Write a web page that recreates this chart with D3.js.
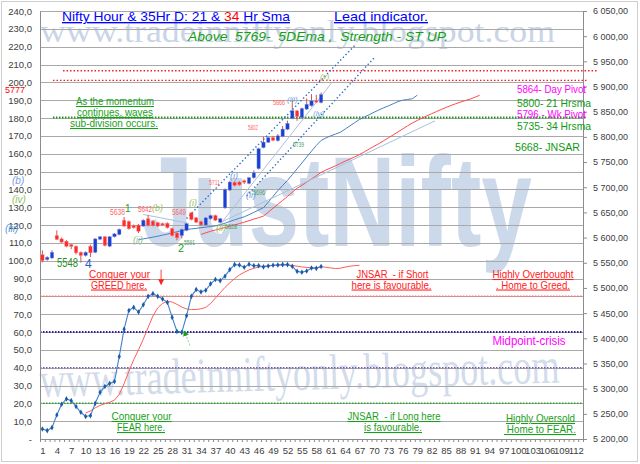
<!DOCTYPE html>
<html>
<head>
<meta charset="utf-8">
<script src="https://cdn.jsdelivr.net/npm/d3@7"></script>
<style>
body { margin: 0; background: #fff; }
svg text { font-family: "Liberation Sans", Arial, sans-serif; }
</style>
</head>
<body>
<script>
// ---- data ----
var categories = d3.range(1, 114);            // x categories 1..113
var xTickLabels = d3.range(1, 113, 3);        // 1,4,7 ... 112
var leftTicks = d3.range(0, 241, 10);         // 0..240
var rightTicks = d3.range(5200, 6051, 50);    // 5 200,00 .. 6 050,00

// hourly candles, left axis units, first candle = category 1
var candleOpen  = [103.4,100.6,101.5,114.1,112.2,110.9,109.0,108.1,104.7,102.9,108.1,104.7,112.0,113.4,108.1,113.4,114.7,122.7,122.0,119.7,120.0,119.4,123.5,122.2,121.3,120.8,121.0,118.0,115.5,114.1,117.0,126.8,124.0,121.9,120.0,123.5,125.3,121.5,129.6,139.6,144.0,144.1,144.8,143.3,146.5,151.6,163.4,166.4,169.0,167.3,169.7,173.7,179.8,184.0,180.3,185.0,186.9,189.6,188.7];
var candleClose = [100.0,101.9,104.7,111.9,110.4,108.1,108.0,104.4,102.9,104.7,104.4,112.2,113.4,108.5,113.4,115.0,117.5,119.4,117.9,118.5,116.5,122.7,119.7,119.7,119.4,120.0,118.5,114.1,112.8,117.5,120.8,123.1,121.6,120.0,124.0,125.3,122.7,123.5,140.0,144.1,142.2,142.5,144.0,146.5,149.3,162.8,166.5,169.0,167.5,170.0,173.8,177.0,184.1,180.8,185.3,187.7,189.6,188.9,193.2];
var candleHigh  = [105.8,102.5,105.8,117.0,113.0,111.5,109.5,108.5,105.2,105.2,109.0,112.6,113.8,113.8,113.8,115.5,118.0,124.5,122.5,120.3,120.5,123.2,125.5,122.7,121.8,121.3,121.5,118.5,116.0,118.0,121.3,127.3,124.5,122.4,124.5,125.8,125.8,124.0,140.5,144.6,144.5,144.6,145.5,147.0,150.6,163.3,169.5,169.5,170.0,171.0,175.5,178.5,189.6,184.5,185.8,191.0,193.4,193.0,194.3];
var candleLow   = [99.0,100.0,101.0,111.5,110.0,107.5,106.5,103.5,98.9,102.3,102.0,104.2,111.5,108.0,107.6,113.0,114.2,119.0,117.4,118.0,115.5,119.0,119.2,119.2,118.9,119.5,118.0,113.6,111.5,112.5,116.5,122.6,121.1,119.5,119.5,123.0,122.2,121.0,129.1,139.1,141.7,142.0,143.0,142.8,146.0,151.1,163.0,166.0,167.0,166.8,169.2,173.2,179.3,178.4,179.8,184.5,186.4,188.5,188.2];

// 21 Hr sma (blue), starts at category 21
var sma21Start = 21;
var sma21 = [111.8,112.2,112.7,113.2,113.7,114.3,114.9,115.6,116.2,116.9,117.5,117.8,118.1,118.5,118.8,119.1,119.5,120.2,121.0,122.0,122.9,123.8,124.6,125.8,127.1,128.4,129.7,132.8,136.0,139.3,142.2,145.0,148.2,151.5,154.8,158.1,161.4,164.6,167.4,168.8,170.0,171.0,172.0,173.8,175.6,177.4,179.2,180.6,181.8,183.2,184.5,185.7,186.8,188.0,189.2,190.0,190.4,190.8,192.8];

// 34 Hr sma (red), starts at category 34
var sma34Start = 34;
var sma34 = [114.7,115.6,116.5,117.2,117.9,118.6,119.3,120.0,120.8,121.6,122.4,123.3,124.1,125.0,127.2,129.4,131.6,133.8,136.0,138.4,140.6,142.2,144.0,145.8,147.6,149.5,150.8,152.0,153.2,154.5,155.8,157.0,158.2,159.5,161.0,162.6,164.1,165.6,167.2,168.9,170.5,172.2,173.9,175.6,177.2,178.6,179.9,181.2,182.4,183.6,184.8,185.9,187.0,188.0,188.9,189.8,190.6,191.6,192.8];

// oscillator (lower panel), blue from category 1, red signal from category 10
var oscBlue = [5.6,4.7,6.4,13.5,19.5,22.5,21.5,18.2,15.0,12.6,13.1,20.0,26.2,29.4,31.1,32.2,46.3,61.6,72.1,73.8,71.2,75.3,80.0,81.5,80.0,78.5,76.6,68.2,60.3,59.8,69.1,80.0,83.8,82.5,83.4,87.0,89.4,88.8,91.3,95.0,97.8,97.6,96.3,98.0,97.2,97.2,96.5,97.0,97.4,97.6,97.8,97.8,96.8,94.0,93.5,94.2,95.9,95.7,96.7];
var oscRedStart = 10;
var oscRed = [14.5,15.8,17.5,18.8,19.8,20.6,21.8,25.0,31.0,38.0,44.5,50.0,56.0,62.5,69.0,73.5,76.0,77.2,76.8,75.5,74.0,72.9,72.6,72.6,73.0,73.8,76.0,79.0,82.0,85.0,87.6,90.0,92.0,93.5,94.8,95.7,96.4,96.9,97.1,97.3,97.5,97.6,97.6,97.3,96.9,96.5,96.2,96.0,96.0,96.6,96.3,95.9,95.6,95.8,96.4,96.9,97.2,97.4];

// trend lines: [cat1, value1, cat2, value2]
var channelLines = [[31.0, 123.7, 66.1, 220.9], [43.5, 136.2, 70.2, 214.2]];
var paleLines = [[22.0, 125.9, 31.0, 121.2], [38.0, 121.3, 82.7, 178.4], [38.0, 120.3, 61.3, 200.1]];

// horizontal levels: [value, cat from, cat to]
var upperRedLevels = [[206.5, 5.3, 116.4], [201.1, 3.2, 114.5]];
var upperGreenLevel = [180.3, 3.2, 114.3];
var oscLevels = [80, 60, 40, 20];

// ---- chart ----
var W = 640, H = 464;
var svg = d3.select("body")
    .append("svg")
    .attr("width", W)
    .attr("height", H)
    .style("display", "block");

var x = d3.scaleLinear().domain([0.5, 113.5]).range([40, 583]);
var yL = d3.scaleLinear().domain([0, 240]).range([439, 11]);
var yR = d3.scaleLinear().domain([5200, 6050]).range([439, 11]);

var locale = d3.formatLocale({decimal: ",", thousands: "\u00a0", grouping: [3], currency: ["", ""]});
var fmtR = locale.format(",.2f");
var fmtL = function(v) { return v === 0 ? "-" : locale.format(".1f")(v); };

// outer frame
svg.append("rect")
    .attr("x", 1.5).attr("y", 1.5)
    .attr("width", 636).attr("height", 460)
    .attr("fill", "#fff")
    .attr("stroke", "#cfcfcf");

// watermarks
svg.append("text")
    .text("www.tradeinniftyonly.blogspot.com")
    .attr("x", 40).attr("y", 42)
    .attr("textLength", 515).attr("lengthAdjust", "spacingAndGlyphs")
    .style("font-family", "'Liberation Serif', 'DejaVu Serif', serif")
    .style("font-size", "31px")
    .attr("fill", "#c9d5e6");

svg.append("text")
    .text("JustNifty")
    .attr("x", 142).attr("y", 246)
    .attr("textLength", 390).attr("lengthAdjust", "spacingAndGlyphs")
    .style("font-size", "128px")
    .style("font-weight", "bold")
    .attr("fill", "#ccd9eb");

svg.append("text")
    .text("www.tradeinniftyonly.blogspot.com")
    .attr("x", 40).attr("y", 397)
    .attr("transform", "rotate(-1.6 40 397)")
    .attr("textLength", 520).attr("lengthAdjust", "spacingAndGlyphs")
    .style("font-family", "'Liberation Serif', 'DejaVu Serif', serif")
    .style("font-size", "50px")
    .attr("fill", "#d2dcea");

// grid lines
svg.append("g")
    .selectAll("line")
    .data(leftTicks.filter(function(d) { return d > 0; }))
    .enter()
    .append("line")
    .attr("x1", 40).attr("x2", 583)
    .attr("y1", function(d) { return Math.round(yL(d)) + 0.5; })
    .attr("y2", function(d) { return Math.round(yL(d)) + 0.5; })
    .attr("stroke", "#a9a9a9");

// dotted levels
function hLevel(v, c1, c2, color, width, dash) {
    svg.append("line")
        .attr("x1", x(c1)).attr("x2", x(c2))
        .attr("y1", yL(v)).attr("y2", yL(v))
        .attr("stroke", color)
        .attr("stroke-width", width)
        .attr("stroke-dasharray", dash);
}
upperRedLevels.forEach(function(d) { hLevel(d[0], d[1], d[2], "#ff1a1a", 1.3, "1.5,2"); });
hLevel(upperGreenLevel[0], upperGreenLevel[1], upperGreenLevel[2], "#1f8f1f", 2, "1.5,1.5");
var oscColors = ["#ff7070", "#3a1fa0", "#7a5ab0", "#2aa52a"];
oscLevels.forEach(function(v, i) { hLevel(v, 0.5, 113.5, oscColors[i], i === 1 ? 1.8 : 1.5, "1.5,1.5"); });

// axes
var gL = svg.append("g")
    .attr("transform", "translate(40,0)")
    .call(d3.axisLeft(yL).tickValues(leftTicks).tickSize(0).tickSizeOuter(0).tickPadding(8).tickFormat(fmtL));
var gR = svg.append("g")
    .attr("transform", "translate(583,0)")
    .call(d3.axisRight(yR).tickValues(rightTicks).tickSize(4).tickSizeOuter(0).tickPadding(6).tickFormat(fmtR));
var gB = svg.append("g")
    .attr("transform", "translate(0,439)")
    .call(d3.axisBottom(x).tickValues(d3.range(0.5, 113.6, 1)).tickSize(3).tickSizeOuter(0).tickFormat(""));
var gB2 = svg.append("g")
    .attr("transform", "translate(0,439)")
    .call(d3.axisBottom(x).tickValues(xTickLabels).tickSize(0).tickPadding(8).tickFormat(d3.format("d")));
gB2.select(".domain").remove();
[gL, gR, gB, gB2].forEach(function(g) {
    g.selectAll(".domain").attr("stroke", "#8c8c8c");
    g.selectAll(".tick line").attr("stroke", "#8c8c8c");
    g.selectAll("text").attr("fill", "#404040").style("font-size", "9.5px").style("font-family", "'Liberation Sans', Arial, sans-serif");
});
gR.selectAll("text").style("font-size", "9px");

// moving averages and trend lines
var lineFrom = function(start) {
    return d3.line()
        .x(function(d, i) { return x(start + i); })
        .y(function(d) { return yL(d); });
};
svg.append("path").datum(sma21).attr("d", lineFrom(sma21Start))
    .attr("fill", "none").attr("stroke", "#4a7fc0").attr("stroke-width", 1);
svg.append("path").datum(sma34).attr("d", lineFrom(sma34Start))
    .attr("fill", "none").attr("stroke", "#ff4a4a").attr("stroke-width", 1);

svg.append("g").selectAll("line")
    .data(paleLines).enter().append("line")
    .attr("x1", function(d) { return x(d[0]); }).attr("y1", function(d) { return yL(d[1]); })
    .attr("x2", function(d) { return x(d[2]); }).attr("y2", function(d) { return yL(d[3]); })
    .attr("stroke", "#a9c0df").attr("stroke-width", 1);

svg.append("g").selectAll("line")
    .data(channelLines).enter().append("line")
    .attr("x1", function(d) { return x(d[0]); }).attr("y1", function(d) { return yL(d[1]); })
    .attr("x2", function(d) { return x(d[2]); }).attr("y2", function(d) { return yL(d[3]); })
    .attr("stroke", "#2e6cc0").attr("stroke-width", 1.4).attr("stroke-dasharray", "1.4,2.4");

// candles
var candles = candleOpen.map(function(o, i) {
    return {c: i + 1, o: o, cl: candleClose[i], h: candleHigh[i], l: candleLow[i]};
});
svg.append("g").selectAll("line")
    .data(candles).enter().append("line")
    .attr("x1", function(d) { return x(d.c); }).attr("x2", function(d) { return x(d.c); })
    .attr("y1", function(d) { return yL(d.h); }).attr("y2", function(d) { return yL(d.l); })
    .attr("stroke", "#c25a5a").attr("stroke-width", 1);
svg.append("g").selectAll("rect")
    .data(candles).enter().append("rect")
    .attr("x", function(d) { return x(d.c) - 1.7; })
    .attr("width", 3.4)
    .attr("y", function(d) { return yL(Math.max(d.o, d.cl)); })
    .attr("height", function(d) { return Math.max(1.2, Math.abs(yL(d.o) - yL(d.cl))); })
    .attr("fill", function(d) { return d.cl >= d.o ? "#1d3fd2" : "#ff2a2a"; })
    .attr("stroke", function(d) { return d.cl >= d.o ? "#7f9ce8" : "#ff8a8a"; })
    .attr("stroke-width", 0.4);

// oscillator
svg.append("path").datum(oscRed).attr("d", lineFrom(oscRedStart))
    .attr("fill", "none").attr("stroke", "#ff5c5c").attr("stroke-width", 1);
svg.append("path").datum(oscBlue).attr("d", lineFrom(1))
    .attr("fill", "none").attr("stroke", "#3f82cc").attr("stroke-width", 1.1);
svg.append("g").selectAll("path")
    .data(oscBlue).enter().append("path")
    .attr("d", d3.symbol().type(d3.symbolDiamond).size(9))
    .attr("transform", function(d, i) { return "translate(" + x(i + 1) + "," + yL(d) + ")"; })
    .attr("fill", "#1c5aa8");

// arrows
var defs = svg.append("defs");
function arrowHead(id, color) {
    defs.append("marker").attr("id", id)
        .attr("viewBox", "0 0 6 6").attr("refX", 5).attr("refY", 3)
        .attr("markerWidth", 6).attr("markerHeight", 6)
        .attr("markerUnits", "userSpaceOnUse").attr("orient", "auto")
        .append("path").attr("d", "M0,0L6,3L0,6Z").attr("fill", color);
}
arrowHead("ar", "#ff2020");
arrowHead("ag", "#1f9a1f");
svg.append("line")
    .attr("x1", x(25.7)).attr("y1", yL(95)).attr("x2", x(25.7)).attr("y2", yL(86.8))
    .attr("stroke", "#ff4040").attr("stroke-width", 1).attr("marker-end", "url(#ar)");
svg.append("line")
    .attr("x1", x(31.7)).attr("y1", yL(52.5)).attr("x2", x(30.5)).attr("y2", yL(60.5))
    .attr("stroke", "#9ccf9c").attr("stroke-width", 1).attr("stroke-dasharray", "2,1.5").attr("marker-end", "url(#ag)");

// text labels
function label(txt, px, py, color, size, opt) {
    opt = opt || {};
    var t = svg.append("text")
        .text(txt)
        .attr("x", px).attr("y", py)
        .attr("fill", color)
        .attr("text-anchor", opt.anchor || "start")
        .style("font-size", size + "px")
        .style("white-space", "pre");
    if (opt.w) t.attr("textLength", opt.w).attr("lengthAdjust", "spacingAndGlyphs");
    if (opt.u) t.style("text-decoration", "underline");
    if (opt.i) t.style("font-style", "italic");
    return t;
}

// title
var title = svg.append("text")
    .attr("x", 62).attr("y", 21)
    .attr("textLength", 228).attr("lengthAdjust", "spacingAndGlyphs")
    .style("font-size", "13.5px")
    .style("text-decoration", "underline")
    .attr("fill", "#0000ff");
title.append("tspan").text("Nifty Hour & 35Hr D: 21 & ");
title.append("tspan").text("34").attr("fill", "#ff0000");
title.append("tspan").text(" Hr Sma");
label("Lead indicator.", 334, 21, "#0000ff", 13.5, {w: 94, u: true});
label("Above  5769-  5DEma ,  Strength - ST UP.", 188, 41, "#14a014", 13.5, {w: 260, i: true});

// right side levels
label("5864- Day Pivot", 517, 93, "#ff00ff", 10.5, {w: 69});
label("5800- 21 Hrsma", 517, 107, "#109a10", 11, {w: 74});
label("5796 - Wk Pivot", 517, 118, "#ff00ff", 10.5, {w: 69});
label("5735- 34 Hrsma", 517, 130, "#109a10", 11, {w: 74});
label("5668- JNSAR", 515, 151, "#109a10", 11, {w: 65});

// left side notes
label("5777", 5, 93, "#ff0000", 9.5, {w: 20});
label("As the momentum", 115, 105, "#19a019", 10.5, {anchor: "middle", w: 78, u: true});
label("continues, waves", 115, 116, "#19a019", 10.5, {anchor: "middle", w: 76, u: true});
label("sub-division occurs.", 114, 127, "#19a019", 10.5, {anchor: "middle", w: 88, u: true});

// lower panel notes
label("Conquer your", 119.5, 278, "#ff2020", 10.5, {anchor: "middle", w: 61, u: true});
label("GREED here.", 119, 288.5, "#ff2020", 10.5, {anchor: "middle", w: 56, u: true});
label("Conquer your", 141.5, 420, "#19a019", 10.5, {anchor: "middle", w: 60, u: true});
label("FEAR here.", 141, 431, "#19a019", 10.5, {anchor: "middle", w: 48, u: true});
label("JNSAR  - if Short", 392.5, 278, "#ff2020", 10.5, {anchor: "middle", w: 72, u: true});
label("here is favourable.", 391.5, 288.5, "#ff2020", 10.5, {anchor: "middle", w: 80, u: true});
label("Highly Overbought", 533, 278, "#ff2020", 10.5, {anchor: "middle", w: 81, u: true});
label(". Home to Greed.", 533, 288.5, "#ff2020", 10.5, {anchor: "middle", w: 74, u: true});
label("Midpoint-crisis", 529, 345, "#ff00ff", 12, {anchor: "middle", w: 73});
label("JNSAR  - if Long here", 394, 420, "#19a019", 10.5, {anchor: "middle", w: 93, u: true});
label("is favourable.", 393, 431, "#19a019", 10.5, {anchor: "middle", w: 58, u: true});
label("Highly Oversold", 540.5, 422, "#19a019", 10.5, {anchor: "middle", w: 69, u: true});
label(" Home to FEAR.", 540, 433, "#19a019", 10.5, {anchor: "middle", w: 72, u: true});

// wave counts
label("(b)", 12, 184, "#7a9be0", 10, {i: true});
label("(iv)", 12, 203, "#8fbf5f", 10, {i: true});
label("(iii)", 5, 232, "#4f95e0", 10, {i: true});
label("5548", 57, 267, "#2a8f2a", 12, {w: 21});
label("4", 85, 268, "#1f5fbf", 12);
label("5638", 110, 215, "#ff6868", 9, {w: 15});
label("1", 125, 212, "#22a022", 10);
label("5642", 138, 211.5, "#ff6868", 9, {w: 14});
label("(b)", 152, 211, "#9fbf66", 9, {i: true});
label("5649", 172, 215, "#ff6868", 9, {w: 14});
label("(i)", 189, 206, "#8fbf66", 9, {i: true});
label("(ii)", 133, 243, "#8fbf8f", 9, {i: true});
label("2", 178, 252, "#22a022", 11);
label("5591", 184, 245, "#3fa064", 7, {w: 11});
label("(ii)", 216, 231, "#8fbf66", 9, {i: true});
label("5628", 225, 229, "#3fa064", 7, {w: 12});
label("5711", 209, 185, "#ff6868", 7.5, {w: 11});
label("(i)", 230, 179, "#6f9fe0", 9, {i: true});
label("(ii)", 246, 198, "#6f9fe0", 9, {i: true});
label("5696", 253, 195, "#3fa064", 7, {w: 12});
label("5802", 248, 130, "#ff6868", 7.5, {w: 10});
label("5739", 293, 147, "#3fa064", 7, {w: 11});
label("5866", 273, 105, "#ff6868", 7.5, {w: 12});
label("(iii)", 287, 102, "#6f9fe0", 8, {i: true});
label("(iv)", 313, 116, "#6f9fe0", 8, {i: true});
label("(v)", 320, 79, "#9fbf66", 8, {i: true});
</script>
</body>
</html>
